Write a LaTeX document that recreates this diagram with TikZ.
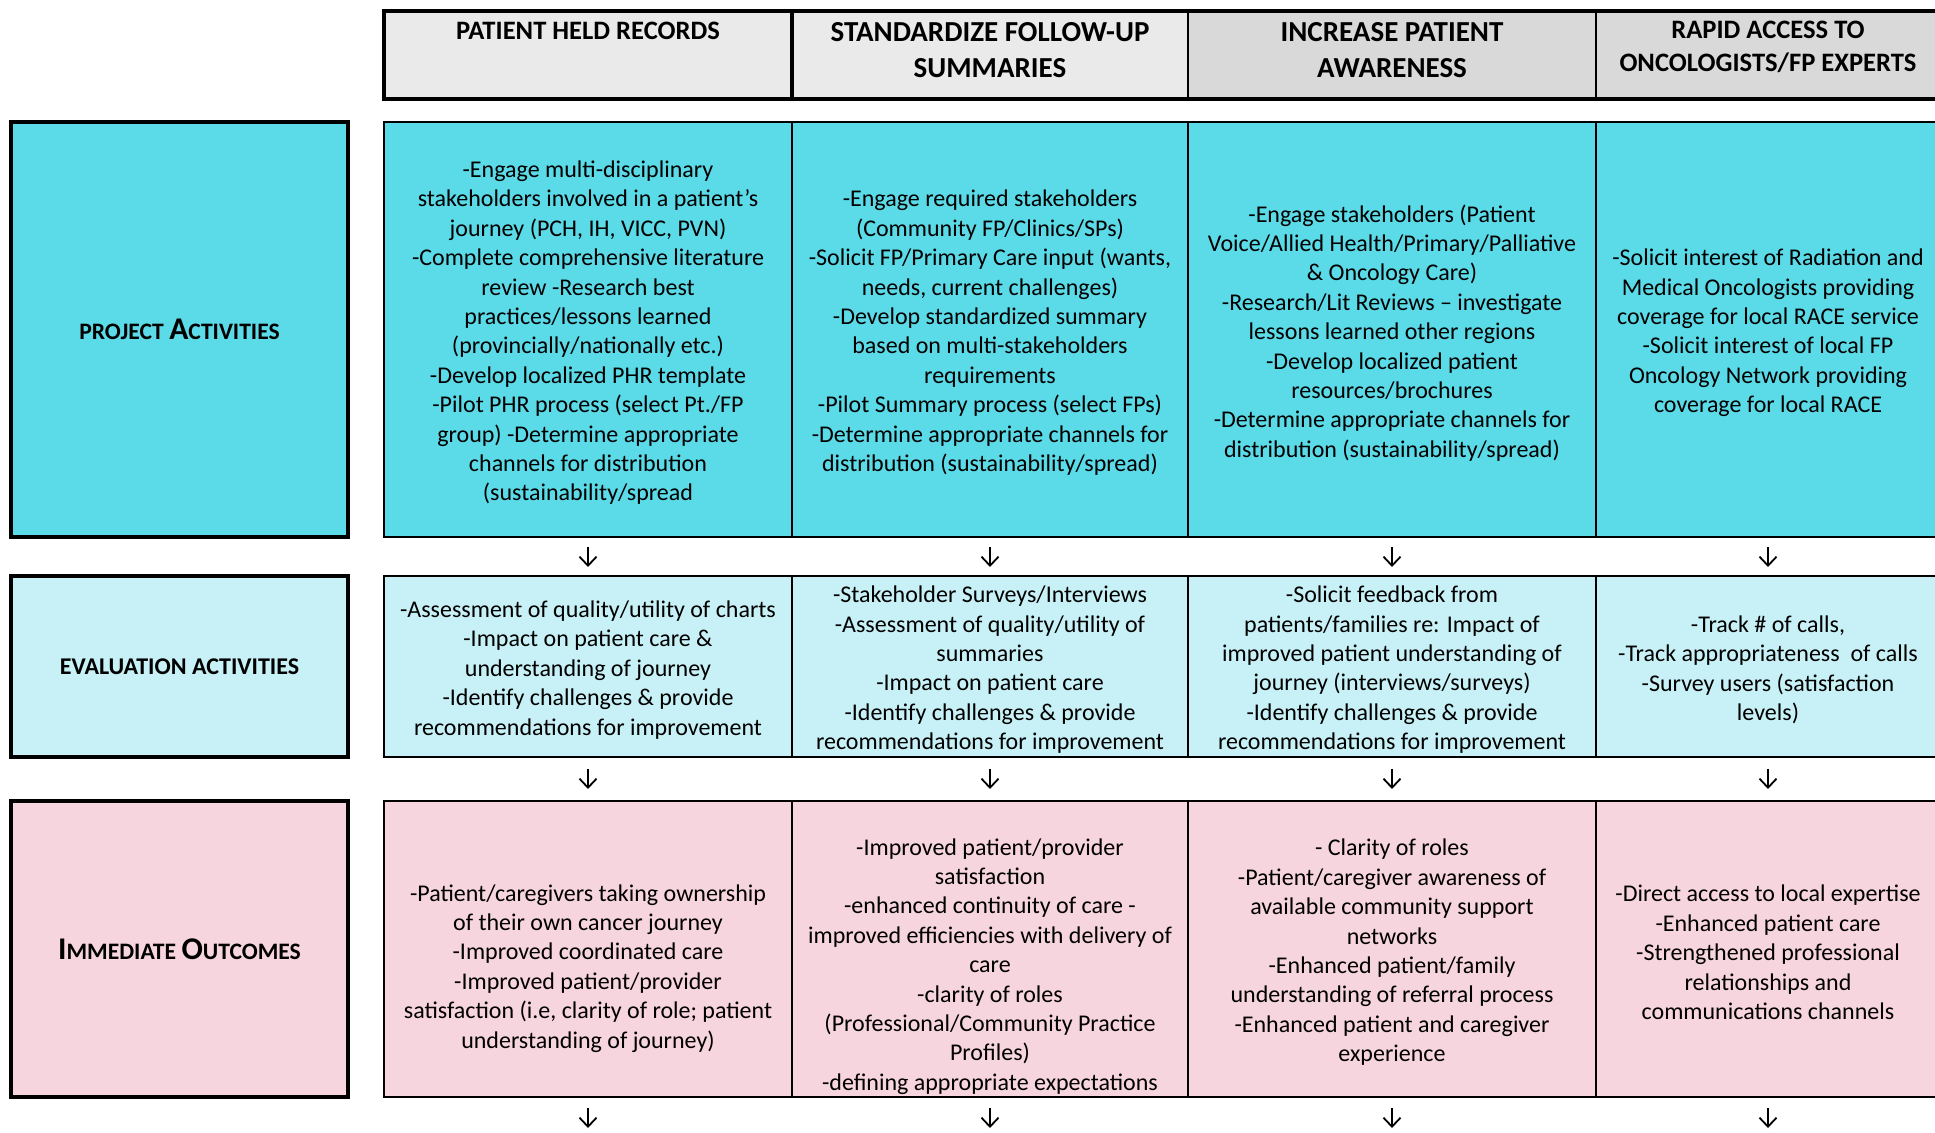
\documentclass[tikz,border=0pt]{standalone}
\usepackage{fontspec}
\setmainfont{Carlito}
\usepackage{tikz}
\usetikzlibrary{positioning,arrows.meta}
\definecolor{projcyan}{HTML}{5BDAE8}
\definecolor{evalcyan}{HTML}{C7F1F6}
\definecolor{outpink}{HTML}{F7D5DE}
\definecolor{headlight}{HTML}{EAEAEA}
\definecolor{headdark}{HTML}{D9D9D9}
\newlength{\labelWidth}
\setlength{\labelWidth}{168.5pt}
\newlength{\headHeight}
\setlength{\headHeight}{44pt}
\newlength{\projHeight}
\setlength{\projHeight}{207.5pt}
\newlength{\evalHeight}
\setlength{\evalHeight}{90.5pt}
\newlength{\outHeight}
\setlength{\outHeight}{148pt}
\newcommand{\capbig}[1]{{\fontsize{15.8}{15}\selectfont #1}}
\newcommand{\capsmall}[1]{{\fontsize{11.8}{15}\selectfont #1}}
\tikzset{cell/.style={shape=rectangle, draw, line width=0.8pt, outer sep=0pt, inner sep=0pt},
    celltext/.style={align=center, inner sep=0pt, yshift=-1.7pt, font=\fontsize{12}{14.7}\selectfont},
    headcell/.style={cell, minimum height=\headHeight, line width=1.2pt},
    headtext/.style={anchor=north, align=center, inner sep=0pt, yshift=-5.4pt, font=\bfseries\fontsize{14.5}{18}\selectfont},
    sidebox/.style={shape=rectangle, draw, line width=2.2pt, outer sep=0pt, minimum width=\labelWidth, align=center, font=\bfseries\fontsize{12}{14.7}\selectfont},
    flow/.style={-{Straight Barb[length=4.5pt,width=8.5pt]}, line width=0.9pt}}

\begin{document}
\begin{tikzpicture}
\useasboundingbox (0,0) rectangle (967.5pt,-566.5pt);
% column heads
\node[headcell, fill=headlight, minimum width=204pt, anchor=north west, label={[headtext, font=\bfseries\fontsize{13.3}{18}\selectfont]north:PATIENT HELD RECORDS}] (hd1) at (192pt,-5.5pt) {};
\node[headcell, fill=headlight, minimum width=198pt, right=0pt of hd1, label={[headtext]north:{STANDARDIZE FOLLOW-UP\\SUMMARIES}}] (hd2) {};
\node[headcell, fill=headdark, minimum width=204pt, right=0pt of hd2, label={[headtext]north:{INCREASE PATIENT\\AWARENESS}}] (hd3) {};
\node[headcell, fill=headdark, minimum width=172pt, right=0pt of hd3, label={[headtext, yshift=0.5pt, font=\bfseries\fontsize{13.3}{16.5}\selectfont]north:{RAPID ACCESS TO\\ONCOLOGISTS/FP EXPERTS}}] (hd4) {};
\draw[line width=2pt] (hd1.north west) rectangle (hd4.south east);
\draw[line width=2pt] (hd1.north east) -- (hd1.south east);

% project activities
\node[cell, fill=projcyan, minimum width=204pt, minimum height=\projHeight, below=11.5pt of hd1, label={[celltext]center:{-Engage multi-disciplinary\\stakeholders involved in a patient's\\journey (PCH, IH, VICC, PVN)\\-Complete comprehensive literature\\review -Research best\\practices/lessons learned\\(provincially/nationally etc.)\\-Develop localized PHR template\\-Pilot PHR process (select Pt./FP\\group) -Determine appropriate\\channels for distribution\\(sustainability/spread}}] (pr1) {};
\node[cell, fill=projcyan, minimum width=198pt, minimum height=\projHeight, right=0pt of pr1, label={[celltext]center:{-Engage required stakeholders\\(Community FP/Clinics/SPs)\\-Solicit FP/Primary Care input (wants,\\needs, current challenges)\\-Develop standardized summary\\based on multi-stakeholders\\requirements\\-Pilot Summary process (select FPs)\\-Determine appropriate channels for\\distribution (sustainability/spread)}}] (pr2) {};
\node[cell, fill=projcyan, minimum width=204pt, minimum height=\projHeight, right=0pt of pr2, label={[celltext]center:{-Engage stakeholders (Patient\\Voice/Allied Health/Primary/Palliative\\\& Oncology Care)\\-Research/Lit Reviews -- investigate\\lessons learned other regions\\-Develop localized patient\\resources/brochures\\-Determine appropriate channels for\\distribution (sustainability/spread)}}] (pr3) {};
\node[cell, fill=projcyan, minimum width=172pt, minimum height=\projHeight, right=0pt of pr3, label={[celltext]center:{-Solicit interest of Radiation and\\Medical Oncologists providing\\coverage for local RACE service\\-Solicit interest of local FP\\Oncology Network providing\\coverage for local RACE}}] (pr4) {};
\node[sidebox, fill=projcyan, minimum height=\projHeight, left=18pt of pr1] (projlabel) {\capsmall{PROJECT} \capbig{A}\capsmall{CTIVITIES}};

% evaluation activities
\node[cell, fill=evalcyan, minimum width=204pt, minimum height=\evalHeight, below=19.5pt of pr1, label={[celltext]center:{-Assessment of quality/utility of charts\\-Impact on patient care \&\\understanding of journey\\-Identify challenges \& provide\\recommendations for improvement}}] (ev1) {};
\node[cell, fill=evalcyan, minimum width=198pt, minimum height=\evalHeight, right=0pt of ev1, label={[celltext]center:{-Stakeholder Surveys/Interviews\\-Assessment of quality/utility of\\summaries\\-Impact on patient care\\-Identify challenges \& provide\\recommendations for improvement}}] (ev2) {};
\node[cell, fill=evalcyan, minimum width=204pt, minimum height=\evalHeight, right=0pt of ev2, label={[celltext]center:{-Solicit feedback from\\patients/families re: Impact of\\improved patient understanding of\\journey (interviews/surveys)\\-Identify challenges \& provide\\recommendations for improvement}}] (ev3) {};
\node[cell, fill=evalcyan, minimum width=172pt, minimum height=\evalHeight, right=0pt of ev3, label={[celltext]center:{-Track \# of calls,\\-Track appropriateness\ \ of calls\\-Survey users (satisfaction\\levels)}}] (ev4) {};
\node[sidebox, fill=evalcyan, minimum height=\evalHeight, left=18pt of ev1] (evallabel) {EVALUATION ACTIVITIES};

% immediate outcomes
\node[cell, fill=outpink, minimum width=204pt, minimum height=\outHeight, below=22pt of ev1, label={[celltext, yshift=-8pt]center:{-Patient/caregivers taking ownership\\of their own cancer journey\\-Improved coordinated care\\-Improved patient/provider\\satisfaction (i.e, clarity of role; patient\\understanding of journey)}}] (ou1) {};
\node[cell, fill=outpink, minimum width=198pt, minimum height=\outHeight, right=0pt of ou1, label={[celltext, yshift=-7pt]center:{-Improved patient/provider\\satisfaction\\-enhanced continuity of care -\\improved efficiencies with delivery of\\care\\-clarity of roles\\(Professional/Community Practice\\Profiles)\\-defining appropriate expectations}}] (ou2) {};
\node[cell, fill=outpink, minimum width=204pt, minimum height=\outHeight, right=0pt of ou2, label={[celltext]center:{- Clarity of roles\\-Patient/caregiver awareness of\\available community support\\networks\\-Enhanced patient/family\\understanding of referral process\\-Enhanced patient and caregiver\\experience}}] (ou3) {};
\node[cell, fill=outpink, minimum width=172pt, minimum height=\outHeight, right=0pt of ou3, label={[celltext]center:{-Direct access to local expertise\\-Enhanced patient care\\-Strengthened professional\\relationships and\\communications channels}}] (ou4) {};
\node[sidebox, fill=outpink, minimum height=\outHeight, left=18pt of ou1] (outlabel) {\capbig{I}\capsmall{MMEDIATE} \capbig{O}\capsmall{UTCOMES}};

% arrows between rows
\foreach \i in {1,...,4} {
    \coordinate[below=15.5pt of ou\i] (end\i);
    \draw[flow, shorten <=5pt, shorten >=4.5pt] (pr\i) -- (ev\i);
    \draw[flow, shorten <=6pt, shorten >=6pt] (ev\i) -- (ou\i);
    \draw[flow, shorten <=5.5pt] (ou\i) -- (end\i);
}
\end{tikzpicture}
\end{document}
